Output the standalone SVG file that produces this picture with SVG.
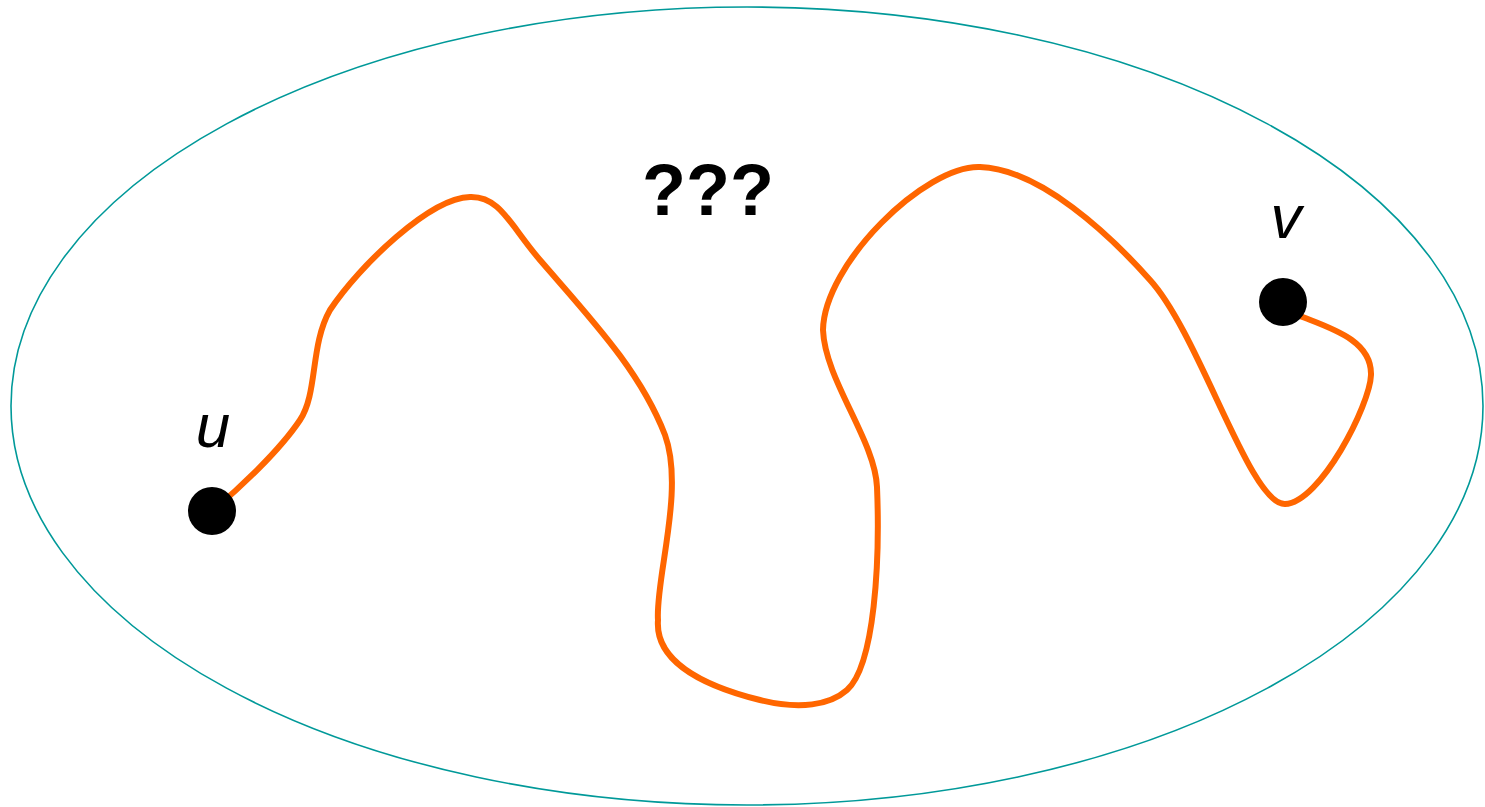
<svg xmlns="http://www.w3.org/2000/svg" width="1485" height="807" viewBox="0 0 1485 807">
<style>
.region{fill:none;stroke:#009999;stroke-width:1.6}
.walk{fill:none;stroke:#FF6600;stroke-width:6;stroke-linecap:round;stroke-linejoin:round}
.node{fill:#000}
.lbl{font-family:"Liberation Sans",Arial,sans-serif;font-style:italic;font-size:62px;fill:#000;text-anchor:middle}
.q{font-family:"Liberation Sans",Arial,sans-serif;font-weight:bold;font-size:72px;fill:#000;text-anchor:middle}
</style>
<rect width="1485" height="807" fill="#fff"/>
<g id="region"><ellipse class="region" cx="747" cy="406" rx="736" ry="399"/></g>
<g id="connectors">
<path class="walk" d="M212,511 C240,488 280,450 300,420 C318,393 310,345 330,310 C360,265 430,198 470,197 C500,196 510,225 540,260 C590,318 640,370 665,435 C685,490 655,580 658,620 C655,660 700,685 760,700 C800,710 830,705 847,690 C875,665 880,560 877,487 C875,440 825,380 823,330 C824,264 925,165 980,167 C1040,169 1110,235 1150,280 C1200,335 1250,505 1285,504 C1320,503 1370,405 1371,375 C1372,340 1330,328 1300,316"/>
</g>
<g id="node-u"><circle class="node" cx="212" cy="511" r="24"/><text class="lbl" x="213" y="447">u</text></g>
<g id="node-v"><circle class="node" cx="1283" cy="302" r="24"/><text class="lbl" x="1286" y="238">v</text></g>
<g id="label-unknown"><text class="q" x="708" y="215">???</text></g>
</svg>
